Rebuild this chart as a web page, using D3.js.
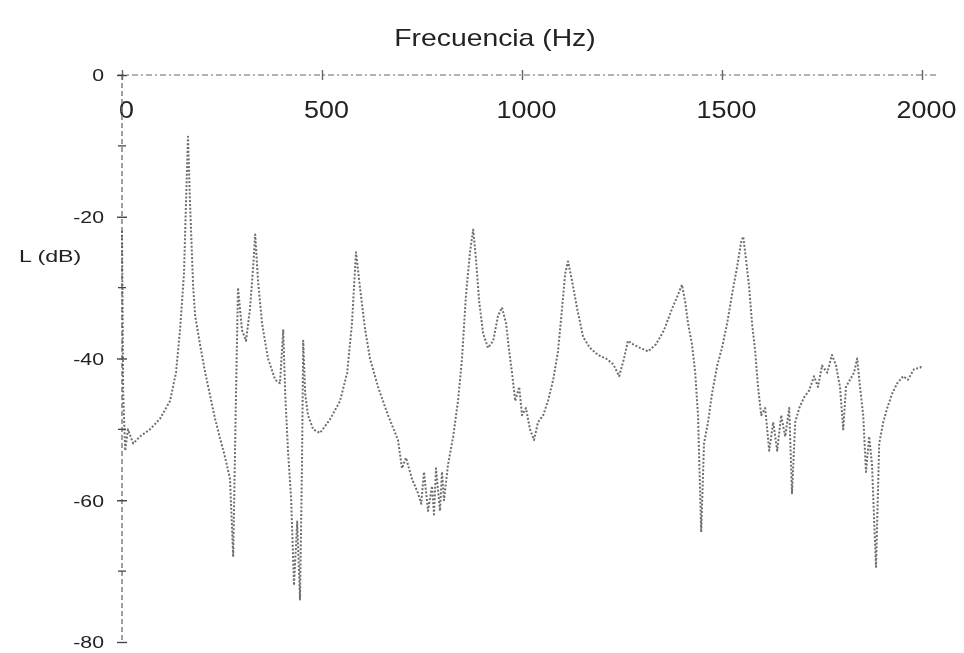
<!DOCTYPE html>
<html><head><meta charset="utf-8">
<script src="https://cdn.jsdelivr.net/npm/d3@7"></script>
<style>
html,body{margin:0;padding:0;background:#fff;}
svg{display:block;font-family:"Liberation Sans",Arial,sans-serif;}
</style></head>
<body>
<svg id="chart" width="964" height="653"></svg>
<script>
// Data
const freqs = [0,3,8,15,28,45,70,95,120,135,145,155,160,165,170,178,183,195,208,233,258,270,278,285,290,300,310,320,328,333,340,350,365,383,395,403,408,415,423,430,438,445,450,453,458,465,478,495,520,545,563,575,585,595,608,620,640,665,690,700,710,725,740,748,755,765,775,780,785,795,800,805,815,828,840,850,860,870,878,885,893,903,915,928,940,950,960,968,975,983,993,1000,1010,1020,1030,1040,1053,1065,1078,1090,1100,1108,1115,1125,1138,1153,1170,1190,1210,1228,1243,1255,1265,1278,1295,1315,1335,1355,1375,1390,1400,1408,1415,1425,1433,1440,1448,1455,1465,1475,1488,1500,1513,1525,1538,1548,1553,1560,1568,1575,1583,1590,1598,1608,1618,1628,1638,1648,1658,1668,1675,1683,1693,1705,1718,1730,1740,1750,1763,1775,1785,1795,1803,1810,1820,1830,1838,1845,1853,1860,1868,1875,1885,1893,1903,1913,1925,1938,1953,1965,1980,1995,2000];
const levels = [-22,-45,-53,-50,-52,-51,-50,-48.5,-46,-42,-36,-28,-18,-8.7,-18,-30,-34,-38,-42,-48.6,-54,-57,-68,-45,-30,-36,-37.5,-33,-27,-22.5,-29,-35,-40,-43,-43.5,-36,-45,-53,-60,-72,-63,-74,-55,-37.5,-45,-48,-50,-50.5,-48.6,-46,-42,-35,-25,-30,-36,-40,-44,-48,-51.5,-55.5,-54,-57,-59,-60.5,-56,-61.5,-58,-62,-55.5,-61.5,-56,-60,-55,-51,-46,-40,-31,-25,-21.8,-26,-32,-36.5,-38.5,-37.5,-34,-32.8,-35,-39,-42,-46,-44,-48,-47,-50,-51.5,-49,-48,-46,-43,-39,-33,-28,-26.3,-29,-33,-37,-38.5,-39.5,-40,-40.8,-42.5,-40,-37.5,-38,-38.5,-39,-38,-36,-33,-31,-29.6,-32,-35,-38,-42,-48,-64.5,-52,-49,-45,-41,-38.5,-35,-31,-27,-23.5,-22.8,-26,-30,-35,-39,-44,-48,-47,-53,-49,-53,-48,-51,-47,-59,-49,-47,-45.5,-44.5,-42.5,-44,-41,-42,-39.5,-41,-44,-50,-44,-43,-42,-40,-44,-48,-56,-51,-55,-69.4,-52,-49,-47,-45,-43.5,-42.5,-43,-41.5,-41.3,-41];
const xTicks = [0, 500, 1000, 1500, 2000];
const xTickLabels = ["0", "500", "1000", "1500", "2000"];
const yTicks = [0, -20, -40, -60, -80];
const yTickLabels = ["0", "-20", "-40", "-60", "-80"];
const yMinorTicks = [-10, -30, -50, -70];
const xTitle = "Frecuencia (Hz)";
const yTitle = "L (dB)";

const svg = d3.select("#chart");
const defs = svg.append("defs");
defs.append("filter").attr("id","soft").append("feGaussianBlur").attr("stdDeviation",0.6);

const x = d3.scaleLinear().domain([0, 2000]).range([122, 922]);
const y = d3.scaleLinear().domain([0, -80]).range([75, 642]);

const g = svg.append("g").attr("filter","url(#soft)");

function stretch(sel, factor){
  sel.each(function(){
    const len = this.getComputedTextLength();
    d3.select(this).attr("textLength", len*factor).attr("lengthAdjust","spacingAndGlyphs");
  });
}

// X axis along 0 dB, labels below the line
const xAxis = g.append("g").attr("transform", `translate(0,${y(0)})`)
  .call(d3.axisBottom(x).tickValues(xTicks).tickFormat((d,i)=>xTickLabels[i]).tickSize(4).tickPadding(0));
xAxis.select(".domain").attr("d", `M${x(0)-4},0H${x(2000)+14}`)
  .attr("stroke","#999").attr("stroke-width",1.4).attr("stroke-dasharray","6 3 2 3");
xAxis.selectAll(".tick line").attr("y1",-5).attr("y2",5).attr("stroke","#666").attr("stroke-width",1.4);
xAxis.selectAll(".tick text").attr("dy",null).attr("y",43).attr("x",4)
  .attr("font-size",24).attr("fill","#222").attr("font-family","Liberation Sans, Arial, sans-serif");
stretch(xAxis.selectAll(".tick text"), 1.12);

// Y axis
const yAxis = g.append("g").attr("transform", `translate(${x(0)},0)`)
  .call(d3.axisLeft(y).tickValues(yTicks).tickFormat((d,i)=>yTickLabels[i]).tickSize(4).tickPadding(14));
yAxis.select(".domain").attr("d", `M0,${y(0)}V${y(-80)}`)
  .attr("stroke","#777").attr("stroke-width",1.4).attr("stroke-dasharray","5 3");
yAxis.selectAll(".tick line").attr("x1",-5).attr("x2",5).attr("stroke","#444").attr("stroke-width",1.4);
yAxis.selectAll(".tick text").attr("dy","0.35em").attr("font-size",17).attr("fill","#222")
  .attr("font-family","Liberation Sans, Arial, sans-serif");
stretch(yAxis.selectAll(".tick text"), 1.25);

// minor ticks
yAxis.selectAll(".minor").data(yMinorTicks).join("line").attr("class","minor")
  .attr("x1",-4).attr("x2",4).attr("y1",d=>y(d)).attr("y2",d=>y(d))
  .attr("stroke","#444").attr("stroke-width",1.3);

// titles
const t1 = g.append("text").attr("x",495).attr("y",46).attr("text-anchor","middle")
  .attr("font-size",24).attr("fill","#222").text(xTitle);
stretch(t1, 1.18);
const t2 = g.append("text").attr("x",19).attr("y",262)
  .attr("font-size",16).attr("fill","#222").text(yTitle);
stretch(t2, 1.45);

// curve
const pts = freqs.map((f,i)=>[f, levels[i]]);
const line = d3.line().x(d=>x(d[0])).y(d=>y(d[1]));
g.append("path").datum(pts).attr("d", line).attr("fill","none")
  .attr("stroke","#4a4a4a").attr("stroke-width",2).attr("stroke-dasharray","2 1.8")
  .attr("stroke-linejoin","round").attr("opacity",0.8);
</script>
</body></html>
